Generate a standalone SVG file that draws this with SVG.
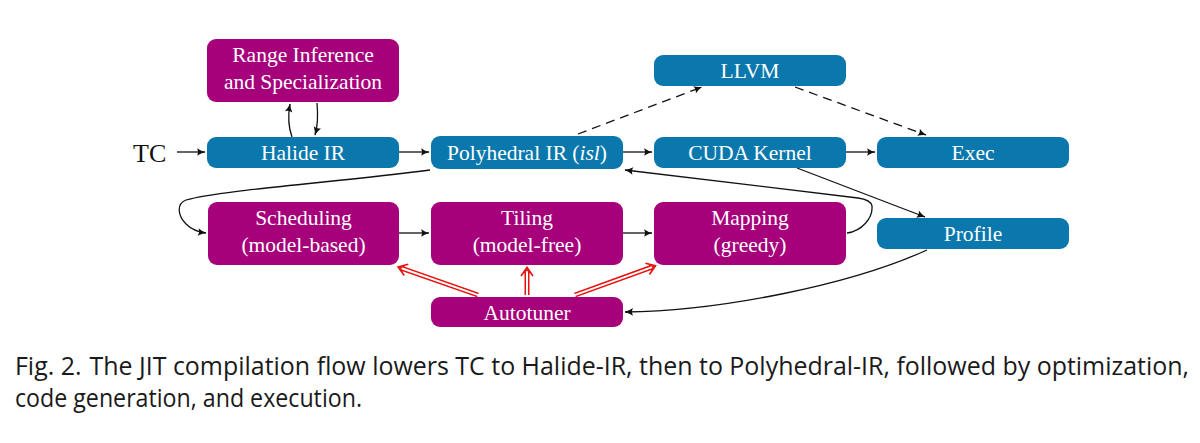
<svg xmlns="http://www.w3.org/2000/svg" width="1200" height="443" viewBox="0 0 1200 443">
<style>
.blue{fill:#0A78AC}
.mag{fill:#A6007B}
.lbl{font-family:"Liberation Serif","Times New Roman",serif;font-size:21.5px;fill:#fff;text-anchor:middle}
.conn{fill:none;stroke:#111;stroke-width:1.3}
.dash{stroke-dasharray:9 6}
.cap{font-family:"Open Sans","Noto Sans","Liberation Sans",sans-serif;font-size:25px;fill:#1a1a1a}
</style>
<defs>
<marker id="ah" viewBox="0 0 10 10" refX="9" refY="5" markerWidth="10" markerHeight="10" markerUnits="userSpaceOnUse" orient="auto">
<path d="M1,1.2 Q5,4 9.5,5 Q5,6 1,8.8 Q3,5 1,1.2Z" fill="#111"/>
</marker>
</defs>
<rect width="1200" height="443" fill="#fff"/>

<g id="connectors">
<path class="conn" d="M177,152 L205,152" marker-end="url(#ah)"/>
<path class="conn" d="M399,152 L429,152" marker-end="url(#ah)"/>
<path class="conn" d="M623,152 L652,152" marker-end="url(#ah)"/>
<path class="conn" d="M846,152 L875,152" marker-end="url(#ah)"/>
<path class="conn" d="M292,137 C288,126 288,115 290,104" marker-end="url(#ah)"/>
<path class="conn" d="M317,103 C318,114 318,125 315,135" marker-end="url(#ah)"/>
<path class="conn dash" d="M578,134 L702,87" marker-end="url(#ah)"/>
<path class="conn dash" d="M795,87 L926,135" marker-end="url(#ah)"/>
<path class="conn" d="M430,170 C340,182 220,190 186,200 C176,204 178,216 186,224 C192,230 198,232 206,233" marker-end="url(#ah)"/>
<path class="conn" d="M399,233 L429,233" marker-end="url(#ah)"/>
<path class="conn" d="M623,233 L652,233" marker-end="url(#ah)"/>
<path class="conn" d="M847,233 C862,231 873,218 872,206 C871,201 866,199 858,198 L625,170" marker-end="url(#ah)"/>
<path class="conn" d="M797,168 L925,217" marker-end="url(#ah)"/>
<path class="conn" d="M927,250 C850,285 720,311 625,312" marker-end="url(#ah)"/>
<g id="red-arrows" fill="none" stroke-linecap="butt">
<g transform="translate(478,295) rotate(199.3)">
<line x1="0" y1="0" x2="80" y2="0" stroke="#E8110E" stroke-width="5"/>
<line x1="-1" y1="0" x2="81" y2="0" stroke="#fff" stroke-width="2"/>
<path d="M76,-6 L84.7,0 L76,6" stroke="#E8110E" stroke-width="1.6"/>
<path d="M79,-3 L82.5,0 L79,3" stroke="#E8110E" stroke-width="1.4"/>
</g>
<g transform="translate(527,295) rotate(270)">
<line x1="0" y1="0" x2="23" y2="0" stroke="#E8110E" stroke-width="5"/>
<line x1="-1" y1="0" x2="24" y2="0" stroke="#fff" stroke-width="2"/>
<path d="M19,-6 L27.5,0 L19,6" stroke="#E8110E" stroke-width="1.6"/>
<path d="M22,-3 L25.5,0 L22,3" stroke="#E8110E" stroke-width="1.4"/>
</g>
<g transform="translate(575,295) rotate(-19.9)">
<line x1="0" y1="0" x2="81" y2="0" stroke="#E8110E" stroke-width="5"/>
<line x1="-1" y1="0" x2="82" y2="0" stroke="#fff" stroke-width="2"/>
<path d="M77,-6 L85.7,0 L77,6" stroke="#E8110E" stroke-width="1.6"/>
<path d="M80,-3 L83.5,0 L80,3" stroke="#E8110E" stroke-width="1.4"/>
</g>
</g>
</g>

<text x="133" y="162" font-family="Liberation Serif, Times New Roman, serif" font-size="26" fill="#111">TC</text>

<g id="range">
<rect class="mag" x="207" y="39" width="192" height="63" rx="9"/>
<text class="lbl" x="303" y="62">Range Inference</text>
<text class="lbl" x="303" y="89">and Specialization</text>
</g>
<g id="halide">
<rect class="blue" x="207" y="137" width="192" height="31" rx="9"/>
<text class="lbl" x="303" y="160">Halide IR</text>
</g>
<g id="polyhedral">
<rect class="blue" x="431" y="136" width="192" height="33" rx="9"/>
<text class="lbl" x="527" y="160">Polyhedral IR (<tspan font-style="italic">isl</tspan>)</text>
</g>
<g id="llvm">
<rect class="blue" x="654" y="55" width="192" height="31" rx="9"/>
<text class="lbl" x="750" y="78">LLVM</text>
</g>
<g id="cuda">
<rect class="blue" x="654" y="137" width="192" height="31" rx="9"/>
<text class="lbl" x="750" y="160">CUDA Kernel</text>
</g>
<g id="exec">
<rect class="blue" x="877" y="137" width="192" height="31" rx="9"/>
<text class="lbl" x="973" y="160">Exec</text>
</g>
<g id="scheduling">
<rect class="mag" x="208" y="202" width="191" height="63" rx="9"/>
<text class="lbl" x="303.5" y="225">Scheduling</text>
<text class="lbl" x="303.5" y="252">(model-based)</text>
</g>
<g id="tiling">
<rect class="mag" x="431" y="202" width="192" height="63" rx="9"/>
<text class="lbl" x="527" y="225">Tiling</text>
<text class="lbl" x="527" y="252">(model-free)</text>
</g>
<g id="mapping">
<rect class="mag" x="654" y="202" width="192" height="63" rx="9"/>
<text class="lbl" x="750" y="225">Mapping</text>
<text class="lbl" x="750" y="252">(greedy)</text>
</g>
<g id="profile">
<rect class="blue" x="877" y="218" width="192" height="31" rx="9"/>
<text class="lbl" x="973" y="241">Profile</text>
</g>
<g id="autotuner">
<rect class="mag" x="431" y="297" width="192" height="30" rx="9"/>
<text class="lbl" x="527" y="320">Autotuner</text>
</g>

<text class="cap" x="15" y="375" textLength="1174" lengthAdjust="spacingAndGlyphs">Fig. 2.<tspan dx="8">The JIT compilation flow lowers TC to Halide-IR, then to Polyhedral-IR, followed by optimization,</tspan></text>
<text class="cap" x="15" y="407" textLength="347" lengthAdjust="spacingAndGlyphs">code generation, and execution.</text>
</svg>
